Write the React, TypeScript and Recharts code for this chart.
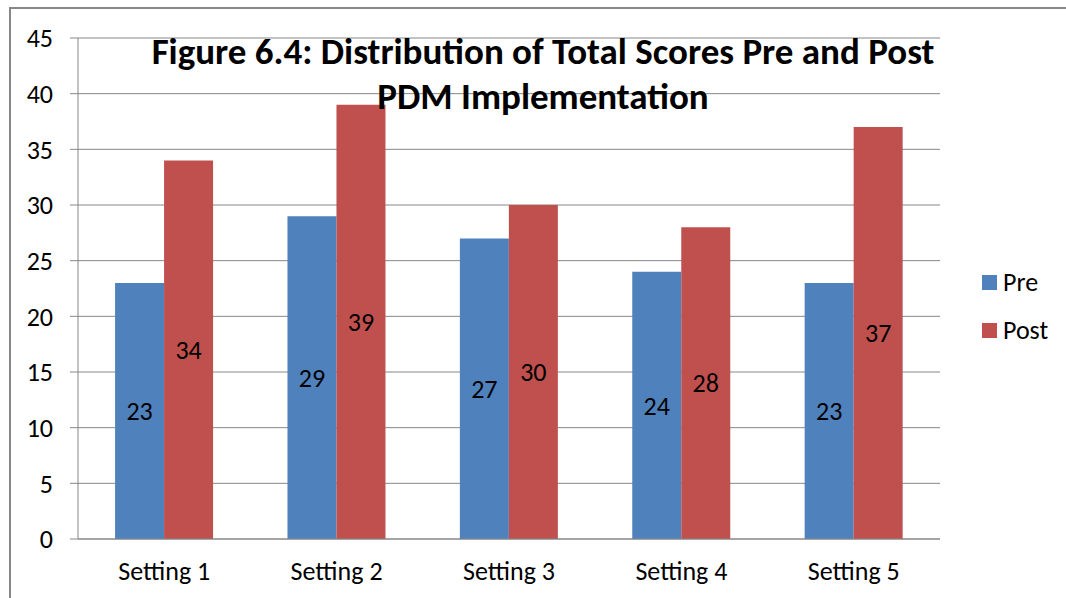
import { BarChart, Bar, XAxis, YAxis, CartesianGrid, Legend, LabelList } from "recharts";

const settings = ["Setting 1", "Setting 2", "Setting 3", "Setting 4", "Setting 5"];
const preScores = [23, 29, 27, 24, 23];
const postScores = [34, 39, 30, 28, 37];
const yTicks = [0, 5, 10, 15, 20, 25, 30, 35, 40, 45];
const edgeTicks = [0, 1, 2, 3, 4, 5];
const seriesNames = ["Pre", "Post"];
const seriesColors = ["#4F81BD", "#C0504D"];
const titleLines = ["Figure 6.4: Distribution of Total Scores Pre and Post", "PDM Implementation"];

const FONT = "Carlito, Lato, 'Open Sans', sans-serif";
const GRID = "#878787";

const chartData = settings.map((name, i) => ({
  name,
  pre: preScores[i],
  post: postScores[i],
}));

function LegendBox() {
  return (
    <div style={{ fontFamily: FONT, fontSize: 26, color: "#000" }}>
      {seriesNames.map((s, i) => (
        <div key={s} style={{ display: "flex", alignItems: "center", height: 48 }}>
          <span style={{ width: 15, height: 15, background: seriesColors[i], marginRight: 6 }} />
          <span>{s}</span>
        </div>
      ))}
    </div>
  );
}

export default function App() {
  return (
    <div
      style={{
        position: "absolute",
        left: 0,
        top: 0,
        width: 1066,
        height: 598,
        overflow: "hidden",
        background: "#fff",
      }}
    >
      <div
        style={{
          position: "absolute",
          left: 9,
          top: 7,
          width: 1200,
          height: 800,
          border: `2px solid ${GRID}`,
        }}
      />
      <BarChart
        width={1066}
        height={598}
        data={chartData}
        margin={{ top: 38, right: 126, bottom: 0, left: 0 }}
        barCategoryGap="21.5%"
        barGap={0}
      >
        <CartesianGrid vertical={false} stroke={GRID} />
        <XAxis
          xAxisId="edges"
          type="number"
          domain={[0, 5]}
          ticks={edgeTicks}
          height={0}
          axisLine={false}
          tickSize={7}
          tickFormatter={() => ""}
          stroke={GRID}
        />
        <XAxis
          dataKey="name"
          height={59}
          tickSize={0}
          tickMargin={23}
          stroke={GRID}
          tick={{ fill: "#000", fontSize: 26, fontFamily: FONT }}
        />
        <YAxis
          width={78}
          domain={[0, 45]}
          ticks={yTicks}
          tickSize={8}
          tickMargin={17}
          stroke={GRID}
          tick={{ fill: "#000", fontSize: 26, fontFamily: FONT }}
        />
        <Legend
          layout="vertical"
          align="center"
          verticalAlign="middle"
          content={() => <LegendBox />}
          wrapperStyle={{ left: 982, top: 258, width: 84 }}
        />
        <Bar dataKey="pre" name="Pre" fill={seriesColors[0]} isAnimationActive={false}>
          <LabelList dataKey="pre" position="center" fill="#000" fontSize={26} fontFamily={FONT} />
        </Bar>
        <Bar dataKey="post" name="Post" fill={seriesColors[1]} isAnimationActive={false}>
          <LabelList dataKey="post" position="center" fill="#000" fontSize={26} fontFamily={FONT} />
        </Bar>
      </BarChart>
      <div
        style={{
          position: "absolute",
          left: 93,
          top: 29,
          width: 900,
          textAlign: "center",
          fontFamily: FONT,
          fontWeight: 700,
          fontSize: 37,
          lineHeight: "45px",
          color: "#000",
          pointerEvents: "none",
        }}
      >
        {titleLines.map((l) => (
          <div key={l} style={{ whiteSpace: "nowrap" }}>
            {l}
          </div>
        ))}
      </div>
    </div>
  );
}
